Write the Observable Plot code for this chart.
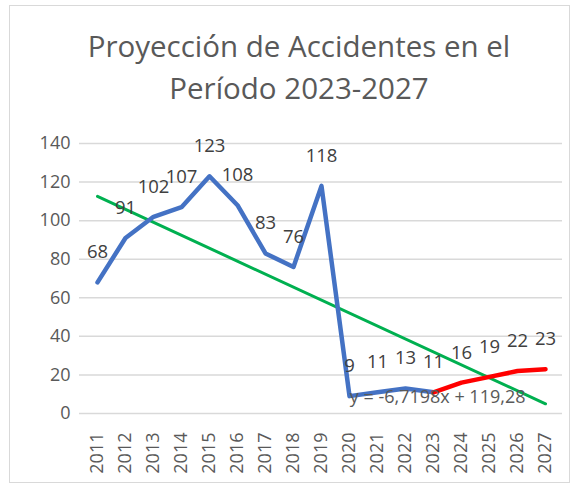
<!DOCTYPE html>
<html>
<head>
<meta charset="utf-8">
<script src="https://cdn.jsdelivr.net/npm/d3@7"></script>
<script src="https://cdn.jsdelivr.net/npm/@observablehq/plot@0.6"></script>
<style>
  html, body { margin: 0; padding: 0; background: #fff; }
  #wrap { position: relative; width: 577px; height: 486px; font-family: "Open Sans", sans-serif; }
  #frame { position: absolute; left: 9px; top: 5px; width: 561px; height: 478px; border: 1px solid #d9d9d9; box-sizing: border-box; }
  #title { position: absolute; top: 25px; left: 0; width: 598px; text-align: center; font-size: 29.5px; line-height: 42px; color: #595959; }
  #chart { position: absolute; top: 130px; left: 0; }
</style>
</head>
<body>
<div id="wrap">
  <div id="frame"></div>
  <div id="title">Proyección de Accidentes en el<br>Período 2023-2027</div>
  <div id="chart"></div>
</div>
<script>
const years = ["2011","2012","2013","2014","2015","2016","2017","2018","2019","2020","2021","2022","2023","2024","2025","2026","2027"];
const observedYears = ["2011","2012","2013","2014","2015","2016","2017","2018","2019","2020","2021","2022","2023"];
const observed = [68, 91, 102, 107, 123, 108, 83, 76, 118, 9, 11, 13, 11];
const projectedYears = ["2023","2024","2025","2026","2027"];
const projected = [11, 16, 19, 22, 23];
const trendSlope = -6.7198;
const trendIntercept = 119.28;
const trendLabel = "y = -6,7198x + 119,28";
const yTicks = [0, 20, 40, 60, 80, 100, 120, 140];

const obsData = observedYears.map((year, i) => ({year, value: observed[i]}));
const projData = projectedYears.map((year, i) => ({year, value: projected[i]}));
const trendData = [years[0], years[years.length - 1]].map(year => {
  const idx = years.indexOf(year) + 1;
  return {year, value: trendSlope * idx + trendIntercept};
});
const labelData = obsData.concat(projData.slice(1));

const chart = Plot.plot({
  width: 577,
  height: 356,
  marginTop: 13,
  marginBottom: 73,
  marginLeft: 79,
  marginRight: 15,
  style: { fontFamily: "Open Sans", fontSize: "18px", color: "#595959", background: "transparent" },
  x: { type: "point", domain: years, padding: 0.5 },
  y: { domain: [0, 140] },
  marks: [
    Plot.gridY(yTicks, { stroke: "#d9d9d9", strokeOpacity: 1, strokeWidth: 1.5 }),
    Plot.axisY(yTicks, { tickSize: 0, tickPadding: 9, label: null, fill: "#595959", fontSize: 18 }),
    Plot.axisX({ tickSize: 0, tickPadding: 19, tickRotate: -90, label: null, fill: "#595959", fontSize: 18 }),
    Plot.line(trendData, { x: "year", y: "value", stroke: "#00B050", strokeWidth: 3 }),
    Plot.line(obsData, { x: "year", y: "value", stroke: "#4472C4", strokeWidth: 4.5, strokeLinejoin: "round", strokeLinecap: "round" }),
    Plot.line(projData, { x: "year", y: "value", stroke: "#FF0000", strokeWidth: 4.5, strokeLinejoin: "round", strokeLinecap: "round" }),
    Plot.text(labelData, { x: "year", y: "value", text: d => String(d.value), dy: -30, lineAnchor: "middle", fill: "#404040", fontSize: 18.5 }),
    Plot.text([trendLabel], { frameAnchor: "bottom-right", text: d => d, dx: -37, dy: -16, textAnchor: "end", lineAnchor: "middle", fill: "#595959", fontSize: 18 })
  ]
});
document.getElementById("chart").appendChild(chart);
</script>
</body>
</html>
